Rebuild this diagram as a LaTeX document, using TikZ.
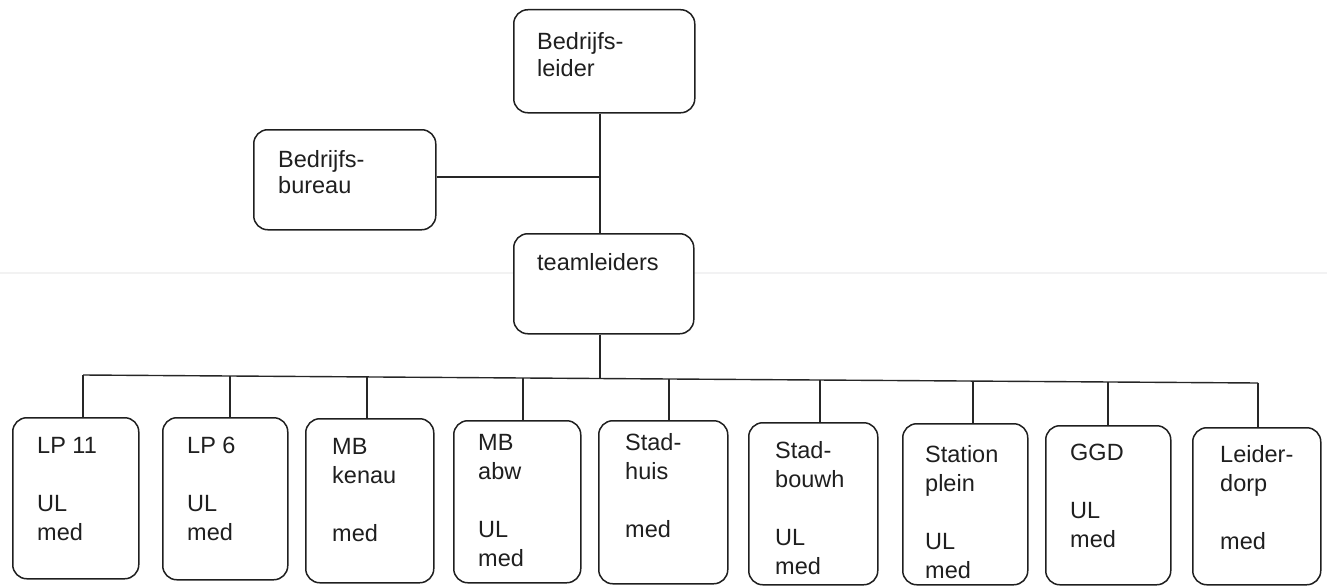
\documentclass[tikz,border=0pt]{standalone}
\usepackage{fontspec}
\setmainfont{Liberation Sans}
\begin{document}
\begin{tikzpicture}[x=1pt,y=-1pt,
  box/.style={draw=black!88, line width=1.5pt, rounded corners=14pt, fill=white, inner sep=0pt, anchor=north west},
  conn/.style={draw=black!85, line width=1.4pt},
  txt/.style={anchor=base west, inner sep=0pt, text=black!88, font=\fontsize{23.5}{26}\selectfont},
  btxt/.style={anchor=base west, inner sep=0pt, text=black!88, font=\fontsize{23.5}{29}\selectfont}]
\useasboundingbox (0,0) rectangle (1327,586);
% faint scan line
\draw[line width=1.2pt, black!5] (0,273) -- (700,273);
\draw[line width=1.2pt, cyan!10!black!6] (700,273) -- (1327,273);

% upper boxes
\node[box, minimum width=181pt, minimum height=103pt] (b0) at (513,9) {};
\node[box, minimum width=182pt, minimum height=100pt] (bb) at (253,129) {};
\node[box, minimum width=180pt, minimum height=100pt] (tl) at (513,233) {};
\node[txt] (t0) at (537,50) {\parbox[t]{5cm}{Bedrijfs-\\leider}};
\node[txt] (tb) at (278,167) {\parbox[t]{5cm}{Bedrijfs-\\bureau}};
\node[txt] (tt) at (537,270) {\parbox[t]{5cm}{teamleiders}};

% bottom boxes
\node[box, minimum width=126pt, minimum height=161pt] (c1) at (12,417) {};
\node[box, minimum width=125pt, minimum height=162pt] (c2) at (162,417) {};
\node[box, minimum width=128pt, minimum height=164pt] (c3) at (305,418) {};
\node[box, minimum width=127pt, minimum height=162pt] (c4) at (453,420) {};
\node[box, minimum width=129pt, minimum height=163pt] (c5) at (598,420) {};
\node[box, minimum width=129pt, minimum height=162pt] (c6) at (748,422) {};
\node[box, minimum width=125pt, minimum height=161pt] (c7) at (902,423) {};
\node[box, minimum width=125pt, minimum height=159pt] (c8) at (1045,425) {};
\node[box, minimum width=128pt, minimum height=157pt] (c9) at (1192,427) {};

\node[btxt] (u1) at (37,453) {\parbox[t]{4cm}{LP 11\\[29pt]UL\\med}};
\node[btxt] (u2) at (187,453) {\parbox[t]{4cm}{LP 6\\[29pt]UL\\med}};
\node[btxt] (u3) at (332,454) {\parbox[t]{4cm}{MB\\kenau\\[29pt]med}};
\node[btxt] (u4) at (478,450) {\parbox[t]{4cm}{MB\\abw\\[29pt]UL\\med}};
\node[btxt] (u5) at (625,450) {\parbox[t]{4cm}{Stad-\\huis\\[29pt]med}};
\node[btxt] (u6) at (775,458) {\parbox[t]{4cm}{Stad-\\bouwh\\[29pt]UL\\med}};
\node[btxt] (u7) at (925,462) {\parbox[t]{4cm}{Station\\plein\\[29pt]UL\\med}};
\node[btxt] (u8) at (1070,460) {\parbox[t]{4cm}{GGD\\[29pt]UL\\med}};
\node[btxt] (u9) at (1220,462) {\parbox[t]{4cm}{Leider-\\dorp\\[29pt]med}};

% trunk junctions
\coordinate (j1) at (600,177);
\coordinate (j2) at (600,378.5);
\coordinate (s1) at (83,375);
\coordinate (s2) at (230,376);
\coordinate (s3) at (367,376.9);
\coordinate (s4) at (523,378);
\coordinate (s5) at (669,379);
\coordinate (s6) at (820,380);
\coordinate (s7) at (973,381);
\coordinate (s8) at (1108,382);
\coordinate (s9) at (1258,383);

\draw[conn] (b0.south -| j1) -- (tl.north -| j1);
\draw[conn] (bb.east |- j1) -- (j1);
\draw[conn] (tl.south -| j2) -- (j2);
\draw[conn] (s1) -- (s9);
\foreach \i in {1,...,9} {
  \draw[conn] (s\i) -- (c\i.north -| s\i);
}
\end{tikzpicture}
\end{document}
